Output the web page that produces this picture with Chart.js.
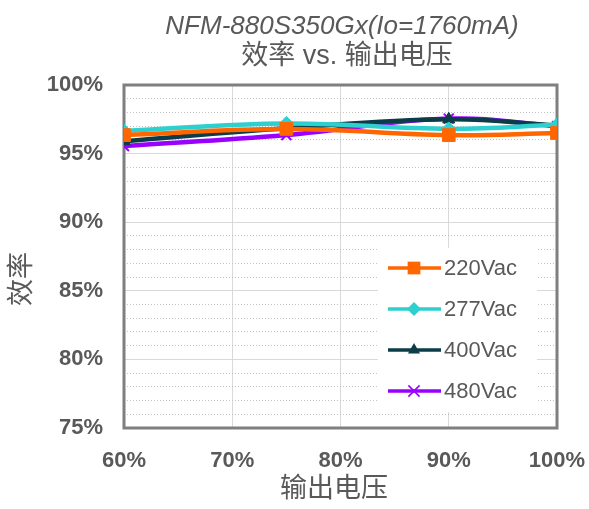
<!DOCTYPE html>
<html lang="zh">
<head>
<meta charset="UTF-8">
<title>效率 vs. 输出电压</title>
<script src="https://cdn.jsdelivr.net/npm/chart.js"></script>
<style>
  html, body { margin: 0; padding: 0; background: #fff; }
  #effChart { display: block; }
</style>
</head>
<body>
<canvas id="effChart" width="589" height="509"></canvas>
<script>
// 输出电压 (% of rated) and efficiency (%)
const outputLoad = [60, 75, 90, 100];
const eff220 = [96.35, 96.8, 96.35, 96.5];
const eff277 = [96.65, 97.2, 96.8, 97.1];
const eff400 = [95.9, 96.85, 97.5, 97.05];
const eff480 = [95.55, 96.35, 97.55, 97.0];
const seriesNames = ['220Vac', '277Vac', '400Vac', '480Vac'];
const xTicks = [60, 70, 80, 90, 100];
const yTicks = [75, 80, 85, 90, 95, 100];

const FONT = "'Liberation Sans', 'Noto Sans CJK SC', sans-serif";
const GRAY = '#595959';

function drawMarker(ctx, style, x, y, r, color) {
    ctx.save();
    ctx.fillStyle = color;
    ctx.strokeStyle = color;
    ctx.beginPath();
    if (style === 'rect') {
        const s = r * Math.SQRT1_2;
        ctx.rect(x - s, y - s, 2 * s, 2 * s);
        ctx.fill();
    } else if (style === 'rectRot') {
        ctx.moveTo(x, y - r); ctx.lineTo(x + r, y); ctx.lineTo(x, y + r); ctx.lineTo(x - r, y);
        ctx.closePath(); ctx.fill();
    } else if (style === 'triangle') {
        ctx.moveTo(x, y - r); ctx.lineTo(x + r * 0.866, y + r * 0.5); ctx.lineTo(x - r * 0.866, y + r * 0.5);
        ctx.closePath(); ctx.fill();
    } else {
        const s = r * 0.8;
        ctx.lineWidth = 1.5;
        ctx.moveTo(x - s, y - s); ctx.lineTo(x + s, y + s);
        ctx.moveTo(x + s, y - s); ctx.lineTo(x - s, y + s);
        ctx.stroke();
    }
    ctx.restore();
}

const decorPlugin = {
    id: 'decor',
    beforeDatasetsDraw(chart) {
        const { ctx, chartArea: a } = chart;
        ctx.save();
        // legend background hides the grid behind it
        ctx.fillStyle = '#fff';
        ctx.fillRect(378, 248, 159, 164);
        ctx.strokeStyle = '#7f7f7f';
        ctx.lineWidth = 3;
        ctx.strokeRect(a.left, a.top, a.right - a.left, a.bottom - a.top);
        ctx.restore();
    },
    afterDraw(chart) {
        const ctx = chart.ctx;
        ctx.save();
        ctx.fillStyle = GRAY;
        ctx.textAlign = 'center';

        ctx.font = 'italic 26px ' + FONT;
        ctx.textBaseline = 'alphabetic';
        ctx.fillText('NFM-880S350Gx(Io=1760mA)', 342, 34);

        ctx.font = '27px ' + FONT;
        ctx.textBaseline = 'middle';
        ctx.fillText('效率 vs. 输出电压', 347, 57);
        ctx.fillText('输出电压', 334, 490);

        ctx.save();
        ctx.translate(23, 279);
        ctx.rotate(-Math.PI / 2);
        ctx.fillText('效率', 0, 0);
        ctx.restore();

        // legend inside the plot
        const rows = [268, 309, 350, 391];
        chart.data.datasets.forEach((ds, i) => {
            const y = rows[i];
            ctx.strokeStyle = ds.borderColor;
            ctx.lineWidth = 3.5;
            ctx.beginPath();
            ctx.moveTo(388, y);
            ctx.lineTo(441, y);
            ctx.stroke();
            drawMarker(ctx, ds.pointStyle, 414, y, ds.pointRadius, ds.borderColor);
            ctx.fillStyle = GRAY;
            ctx.font = '22px ' + FONT;
            ctx.textAlign = 'left';
            ctx.textBaseline = 'middle';
            ctx.fillText(ds.label, 444, y + 1);
        });
        ctx.restore();
    }
};

function series(label, values, color, style, radius) {
    return {
        label: label,
        data: outputLoad.map((x, i) => ({ x: x, y: values[i] })),
        borderColor: color,
        backgroundColor: color,
        borderWidth: 4.5,
        pointStyle: style,
        pointRadius: radius,
        pointBorderWidth: style === 'crossRot' ? 2 : 1,
        tension: 0.4,
        fill: false
    };
}

const ctx = document.getElementById('effChart').getContext('2d');
new Chart(ctx, {
    type: 'line',
    data: {
        datasets: [
            series(seriesNames[0], eff220, '#ff6600', 'rect', 9),
            series(seriesNames[1], eff277, '#2ecfcf', 'rectRot', 7),
            series(seriesNames[2], eff400, '#0a3d48', 'triangle', 7),
            series(seriesNames[3], eff480, '#9a00ff', 'crossRot', 7)
        ]
    },
    options: {
        responsive: false,
        devicePixelRatio: 1,
        animation: false,
        layout: { padding: { top: 85, right: 32, bottom: 0, left: 0 } },
        plugins: {
            legend: { display: false },
            title: { display: false },
            tooltip: { enabled: false }
        },
        scales: {
            x: {
                type: 'linear',
                min: 60,
                max: 100,
                afterBuildTicks: s => { s.ticks = xTicks.map(v => ({ value: v })); },
                afterFit: s => { s.height = 81; s.paddingLeft = 0; s.paddingRight = 0; },
                grid: { color: '#d9d9d9', lineWidth: 1, drawTicks: false },
                border: { display: false },
                ticks: {
                    padding: 20,
                    color: GRAY,
                    autoSkip: false,
                    maxRotation: 0,
                    font: { family: FONT, size: 22, weight: 'bold' },
                    callback: v => v + '%'
                }
            },
            y: {
                min: 75,
                max: 100,
                afterFit: s => { s.width = 124; s.paddingTop = 0; s.paddingBottom = 0; },
                grid: {
                    drawTicks: false,
                    lineWidth: 1,
                    color: c => (c.tick && c.tick.value % 5 !== 0) ? '#c4c4c4' : '#d9d9d9'
                },
                border: {
                    display: false,
                    dash: c => (c.tick && c.tick.value % 5 !== 0) ? [1, 2] : []
                },
                ticks: {
                    stepSize: 1,
                    autoSkip: false,
                    padding: 21,
                    color: GRAY,
                    font: { family: FONT, size: 22, weight: 'bold' },
                    callback: v => yTicks.includes(v) ? v + '%' : ''
                }
            }
        }
    },
    plugins: [decorPlugin]
});
</script>
</body>
</html>
